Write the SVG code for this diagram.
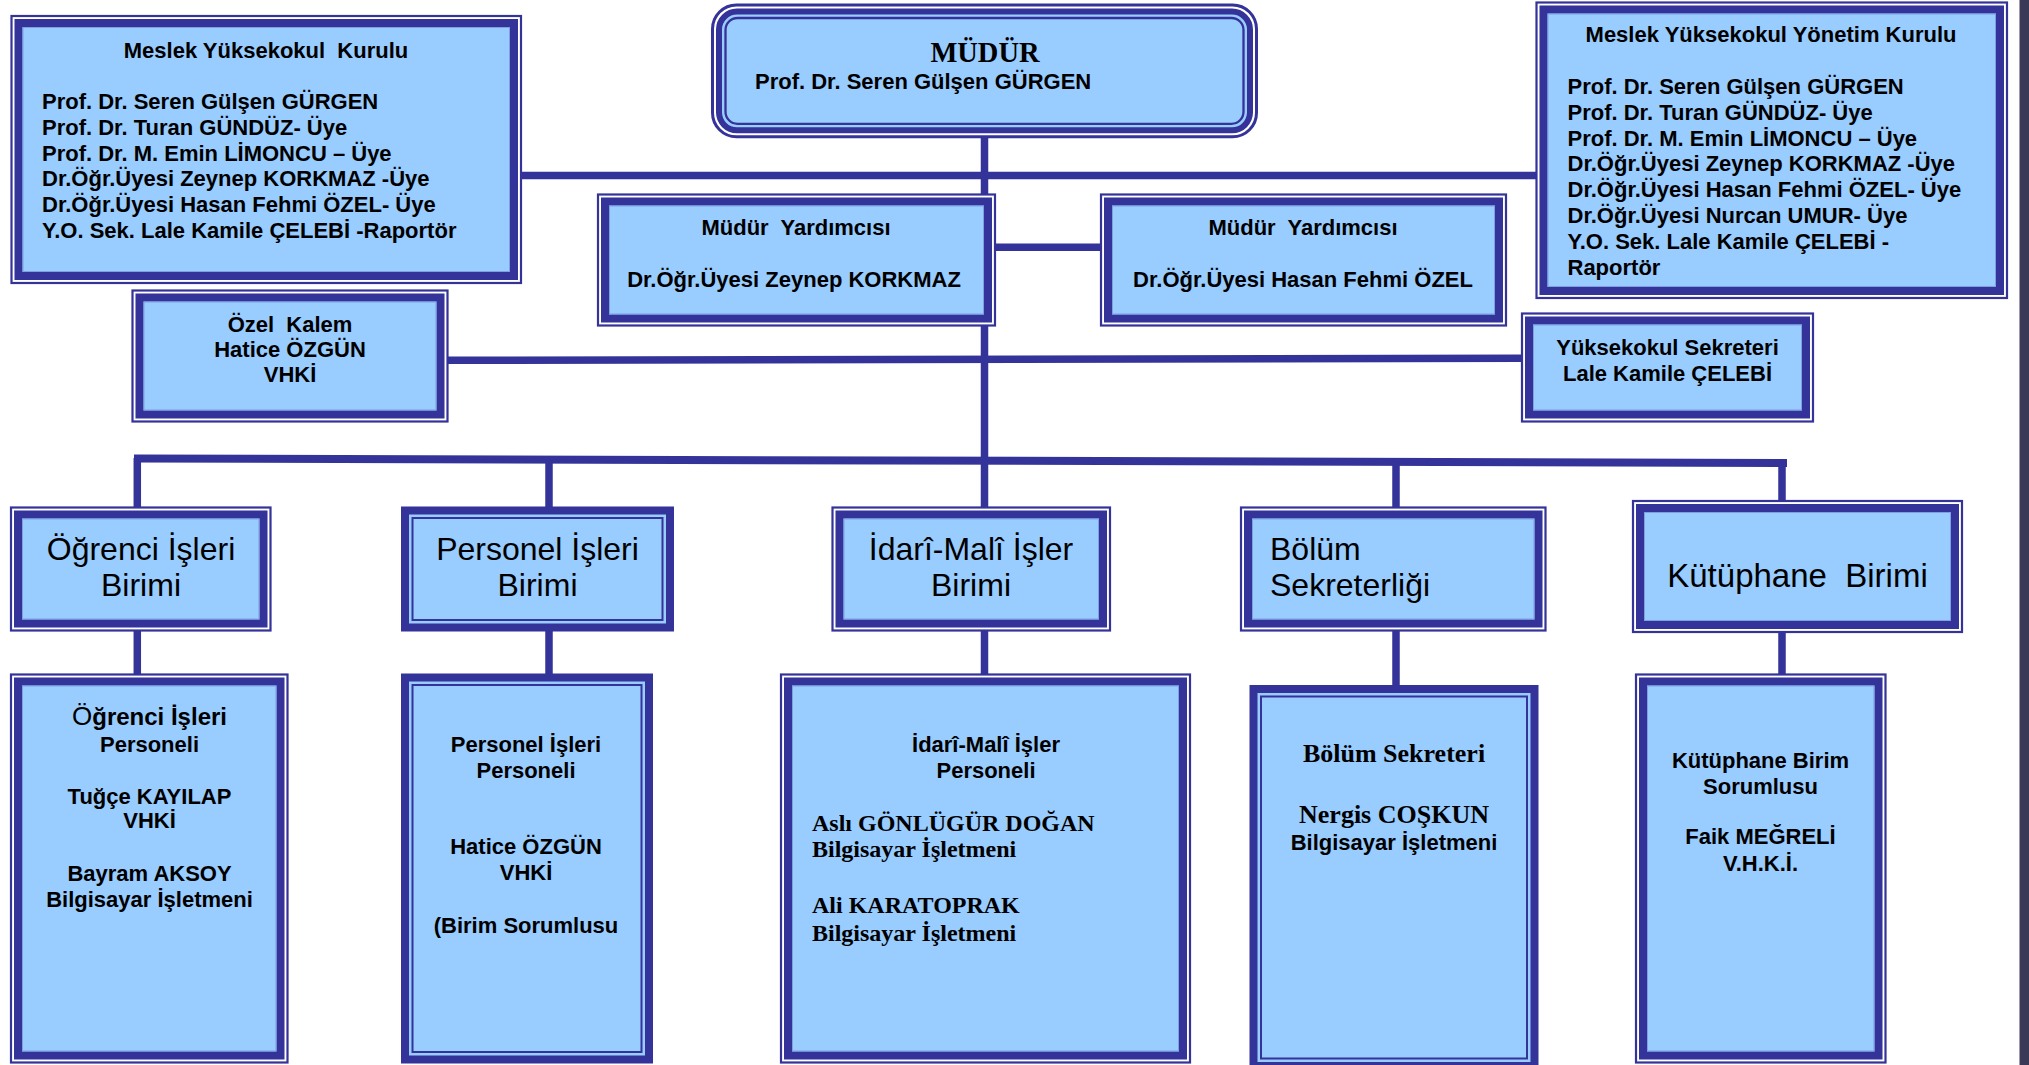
<svg xmlns="http://www.w3.org/2000/svg" width="2029" height="1065" viewBox="0 0 2029 1065">
<style>
.o{fill:#fff;stroke:#333399;stroke-width:2.2}
.b{fill:#99ccff;stroke:#333399;stroke-width:8}
.i{fill:none;stroke:#7f9fe0;stroke-width:1}
.t{fill:none;stroke:#333399;stroke-width:2}
.c{fill:none;stroke:#333399;stroke-width:7.5}
text{font-family:"Liberation Sans",Arial,sans-serif;fill:#000}
.sb{font-weight:bold;font-size:22px}
.r{font-size:32px}
.sf{font-family:"Liberation Serif","Times New Roman",serif;font-weight:bold}
.m{text-anchor:middle}
</style>
<rect x="0" y="0" width="2029" height="1065" fill="#fff"/>
<rect x="2019.5" y="0" width="9.5" height="1065" fill="#3a3a58"/>
<g id="connectors">
<path class="c" d="M984.5,137 V507"/>
<path class="c" d="M984.5,631 V674"/>
<path class="c" d="M522,175.5 H1536"/>
<path class="c" d="M988,247.3 H1101"/>
<path class="c" d="M448,360.3 L1522,358.3"/>
<path class="c" style="stroke-width:8" d="M134,458.4 L1787,463"/>
<path class="c" d="M137.3,458 V508 M549,460 V507 M1396,462 V507 M1782,462 V501"/>
<path class="c" d="M137.3,631 V675 M549,631 V674 M1396,631 V686 M1782,632 V674"/>
</g>
<g id="kurulu">
<rect class="o" x="11.5" y="16" width="509.5" height="267"/>
<rect class="b" x="18.5" y="23" width="495.5" height="253"/>
<rect class="i" x="23" y="27.5" width="486.5" height="244"/>
<text class="sb m" x="266" y="58">Meslek Yüksekokul&#160; Kurulu</text>
<text class="sb" x="42" y="109">Prof. Dr. Seren Gülşen GÜRGEN</text>
<text class="sb" x="42" y="135">Prof. Dr. Turan GÜNDÜZ- Üye</text>
<text class="sb" x="42" y="161">Prof. Dr. M. Emin LİMONCU – Üye</text>
<text class="sb" x="42" y="186">Dr.Öğr.Üyesi Zeynep KORKMAZ -Üye</text>
<text class="sb" x="42" y="212">Dr.Öğr.Üyesi Hasan Fehmi ÖZEL- Üye</text>
<text class="sb" x="42" y="238">Y.O. Sek. Lale Kamile ÇELEBİ -Raportör</text>
</g>
<g id="mudur">
<rect x="712.5" y="5" width="544" height="131.8" rx="24" fill="#fff" stroke="#333399" stroke-width="3"/>
<rect x="719" y="11.5" width="531" height="118.8" rx="18" fill="#99ccff" stroke="#333399" stroke-width="6"/>
<rect x="725.5" y="18" width="518" height="105.8" rx="12" fill="none" stroke="#333399" stroke-width="2.3"/>
<text class="sf m" x="985" y="62" style="font-size:28.5px">MÜDÜR</text>
<text class="sb" x="755" y="89">Prof. Dr. Seren Gülşen GÜRGEN</text>
</g>
<g id="yonetim">
<rect class="o" x="1536.5" y="2.5" width="470.5" height="295.5"/>
<rect class="b" x="1543.5" y="9.5" width="456.5" height="281.5"/>
<rect class="i" x="1548" y="14" width="447.5" height="272.5"/>
<text class="sb m" x="1771" y="42">Meslek Yüksekokul Yönetim Kurulu</text>
<text class="sb" x="1567.5" y="94">Prof. Dr. Seren Gülşen GÜRGEN</text>
<text class="sb" x="1567.5" y="119.5">Prof. Dr. Turan GÜNDÜZ- Üye</text>
<text class="sb" x="1567.5" y="145.5">Prof. Dr. M. Emin LİMONCU – Üye</text>
<text class="sb" x="1567.5" y="171">Dr.Öğr.Üyesi Zeynep KORKMAZ -Üye</text>
<text class="sb" x="1567.5" y="197">Dr.Öğr.Üyesi Hasan Fehmi ÖZEL- Üye</text>
<text class="sb" x="1567.5" y="222.5">Dr.Öğr.Üyesi Nurcan UMUR- Üye</text>
<text class="sb" x="1567.5" y="248.5">Y.O. Sek. Lale Kamile ÇELEBİ -</text>
<text class="sb" x="1567.5" y="274.5">Raportör</text>
</g>
<g id="yardimci1">
<rect class="o" x="598" y="194.5" width="397" height="131"/>
<rect class="b" x="605" y="201.5" width="383" height="117"/>
<rect class="i" x="609.5" y="206" width="374" height="108"/>
<text class="sb m" x="796" y="235">Müdür&#160; Yardımcısı</text>
<text class="sb m" x="794" y="287">Dr.Öğr.Üyesi Zeynep KORKMAZ</text>
</g>
<g id="yardimci2">
<rect class="o" x="1101" y="194.5" width="405" height="131"/>
<rect class="b" x="1108" y="201.5" width="391" height="117"/>
<rect class="i" x="1112.5" y="206" width="382" height="108"/>
<text class="sb m" x="1303" y="235">Müdür&#160; Yardımcısı</text>
<text class="sb m" x="1303" y="287">Dr.Öğr.Üyesi Hasan Fehmi ÖZEL</text>
</g>
<g id="ozel-kalem">
<rect class="o" x="132.5" y="290.5" width="315" height="131"/>
<rect class="b" x="139.5" y="297.5" width="301" height="117"/>
<rect class="i" x="144" y="302" width="292" height="108"/>
<text class="sb m" x="290" y="332">Özel&#160; Kalem</text>
<text class="sb m" x="290" y="357">Hatice ÖZGÜN</text>
<text class="sb m" x="290" y="382">VHKİ</text>
</g>
<g id="yuksekokul-sekreteri">
<rect class="o" x="1522" y="313.5" width="291" height="108"/>
<rect class="b" x="1529" y="320.5" width="277" height="94"/>
<rect class="i" x="1533.5" y="325" width="268" height="85"/>
<text class="sb m" x="1667.5" y="355">Yüksekokul Sekreteri</text>
<text class="sb m" x="1667.5" y="381">Lale Kamile ÇELEBİ</text>
</g>
<g id="ogrenci-birimi">
<rect class="o" x="11" y="507.5" width="259.5" height="123"/>
<rect class="b" x="18" y="514.5" width="245.5" height="109"/>
<rect class="i" x="22.5" y="519" width="236.5" height="100"/>
<text class="r m" x="141" y="559.5">Öğrenci İşleri</text>
<text class="r m" x="141" y="596">Birimi</text>
</g>
<g id="personel-birimi">
<rect class="b" x="405" y="510.5" width="265" height="117"/>
<rect class="t" x="412.5" y="518" width="250" height="102"/>
<text class="r m" x="537.5" y="559.5">Personel İşleri</text>
<text class="r m" x="537.5" y="596">Birimi</text>
</g>
<g id="idari-birimi">
<rect class="o" x="832.5" y="507.5" width="277.5" height="123"/>
<rect class="b" x="839.5" y="514.5" width="263.5" height="109"/>
<rect class="i" x="844" y="519" width="254.5" height="100"/>
<text class="r m" x="971" y="559.5">İdarî-Malî İşler</text>
<text class="r m" x="971" y="596">Birimi</text>
</g>
<g id="bolum-sekreterligi">
<rect class="o" x="1241" y="507.5" width="304.5" height="123"/>
<rect class="b" x="1248" y="514.5" width="290.5" height="109"/>
<rect class="i" x="1252.5" y="519" width="281.5" height="100"/>
<text class="r" x="1270" y="559.5">Bölüm</text>
<text class="r" x="1270" y="596">Sekreterliği</text>
</g>
<g id="kutuphane-birimi">
<rect class="o" x="1633" y="501" width="329" height="131"/>
<rect class="b" x="1640" y="508" width="315" height="117"/>
<rect class="i" x="1644.5" y="512.5" width="306" height="108"/>
<text class="r m" x="1797.5" y="587" style="font-size:33px">Kütüphane&#160; Birimi</text>
</g>
<g id="ogrenci-personeli">
<rect class="o" x="11" y="674.5" width="276.5" height="388"/>
<rect class="b" x="18" y="681.5" width="262.5" height="374"/>
<rect class="i" x="22.5" y="686" width="253.5" height="365"/>
<text class="sb m" x="149.5" y="725" style="font-size:24px"><tspan style="font-weight:normal;font-size:26px">Ö</tspan>ğrenci İşleri</text>
<text class="sb m" x="149.5" y="752">Personeli</text>
<text class="sb m" x="149.5" y="804">Tuğçe KAYILAP</text>
<text class="sb m" x="149.5" y="828">VHKİ</text>
<text class="sb m" x="149.5" y="881">Bayram AKSOY</text>
<text class="sb m" x="149.5" y="907">Bilgisayar İşletmeni</text>
</g>
<g id="personel-personeli">
<rect class="b" x="405" y="677.5" width="244" height="382"/>
<rect class="t" x="412.5" y="685" width="229" height="367"/>
<text class="sb m" x="526" y="752">Personel İşleri</text>
<text class="sb m" x="526" y="778">Personeli</text>
<text class="sb m" x="526" y="854">Hatice ÖZGÜN</text>
<text class="sb m" x="526" y="880">VHKİ</text>
<text class="sb m" x="526" y="933">(Birim Sorumlusu</text>
</g>
<g id="idari-personeli">
<rect class="o" x="781" y="674.5" width="409" height="388"/>
<rect class="b" x="788" y="681.5" width="395" height="374"/>
<rect class="i" x="792.5" y="686" width="386" height="365"/>
<text class="sb m" x="986" y="752">İdarî-Malî İşler</text>
<text class="sb m" x="986" y="778">Personeli</text>
<text class="sf" x="812" y="831" style="font-size:24px">Aslı GÖNLÜGÜR DOĞAN</text>
<text class="sf" x="812" y="857" style="font-size:24px">Bilgisayar İşletmeni</text>
<text class="sf" x="812" y="913" style="font-size:24px">Ali KARATOPRAK</text>
<text class="sf" x="812" y="941" style="font-size:24px">Bilgisayar İşletmeni</text>
</g>
<g id="bolum-sekreteri">
<rect class="b" x="1253.5" y="689" width="281" height="377"/>
<rect class="t" x="1261" y="696.5" width="266" height="362"/>
<text class="sf m" x="1394" y="762" style="font-size:26px">Bölüm Sekreteri</text>
<text class="sf m" x="1394" y="823" style="font-size:26px">Nergis COŞKUN</text>
<text class="sb m" x="1394" y="850">Bilgisayar İşletmeni</text>
</g>
<g id="kutuphane-sorumlusu">
<rect class="o" x="1636" y="674.5" width="249.5" height="388"/>
<rect class="b" x="1643" y="681.5" width="235.5" height="374"/>
<rect class="i" x="1647.5" y="686" width="226.5" height="365"/>
<text class="sb m" x="1760.5" y="768">Kütüphane Birim</text>
<text class="sb m" x="1760.5" y="794">Sorumlusu</text>
<text class="sb m" x="1760.5" y="844">Faik MEĞRELİ</text>
<text class="sb m" x="1760.5" y="871">V.H.K.İ.</text>
</g>
</svg>
